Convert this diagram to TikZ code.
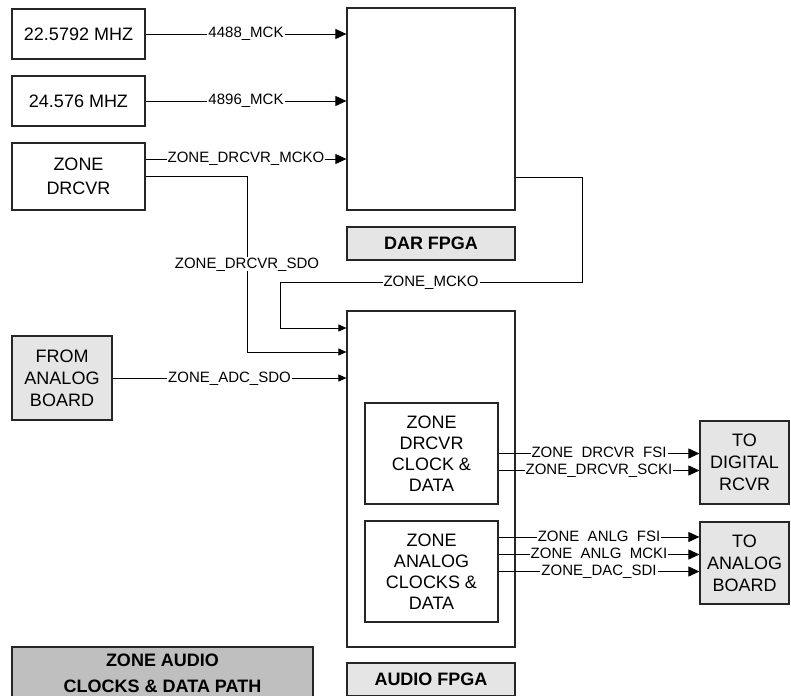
\documentclass[tikz,border=0pt]{standalone}
\usepackage{fontspec}
\setmainfont{Liberation Sans}
\usetikzlibrary{arrows.meta}

\begin{document}
\begin{tikzpicture}[x=1pt, y=-1pt,
    blk/.style={draw=black!85, line width=1.2pt, align=center, inner sep=0pt,
        font=\fontsize{18}{22}\selectfont},
    tag/.style={blk, fill=gray!20, font=\fontsize{18}{22}\selectfont\bfseries},
    lbl/.style={fill=white, inner xsep=1pt, inner ysep=0pt, text height=11pt, text depth=3pt,
        font=\fontsize{15}{15}\selectfont},
    sig/.style={line width=0.9pt, -{Triangle[length=11pt, width=10pt]}},
    sigin/.style={line width=0.9pt, -{Triangle[length=8pt, width=7pt]}}]
    \clip (0,0) rectangle (791,695);

    % Clock sources
    \node[blk, minimum width=133pt, minimum height=50pt] (osc1) at (78.5,34) {22.5792 MHZ};
    \node[blk, minimum width=133pt, minimum height=50pt] (osc2) at (78.5,101) {24.576 MHZ};
    \node[blk, minimum width=133pt, minimum height=67pt, font=\fontsize{18}{24}\selectfont] (drcvr) at (78.5,176.5) {ZONE\\DRCVR};

    % DAR FPGA
    \node[blk, minimum width=168pt, minimum height=202pt] (dar) at (431,109) {};
    \node[tag, minimum width=168pt, minimum height=33pt] (darname) at (431,243.5) {DAR FPGA};

    % Analog board input
    \node[blk, fill=gray!20, minimum width=100pt, minimum height=84pt] (anain) at (62,378) {FROM\\ANALOG\\BOARD};

    % Audio FPGA
    \node[blk, minimum width=168pt, minimum height=336pt] (audio) at (431,479) {};
    \node[tag, minimum width=168pt, minimum height=33pt] (audioname) at (431,679.5) {AUDIO FPGA};
    \node[blk, minimum width=133pt, minimum height=101pt, font=\fontsize{18}{21}\selectfont] (drcvrcd) at (431.5,453.5) {ZONE\\DRCVR\\CLOCK \&\\DATA};
    \node[blk, minimum width=133pt, minimum height=101pt, font=\fontsize{18}{21}\selectfont] (anacd) at (431.5,571.5) {ZONE\\ANALOG\\CLOCKS \&\\DATA};

    % Outputs
    \node[blk, fill=gray!20, minimum width=89pt, minimum height=83pt] (todig) at (744.5,462.5) {TO\\DIGITAL\\RCVR};
    \node[blk, fill=gray!20, minimum width=89pt, minimum height=82pt] (toana) at (744.5,563) {TO\\ANALOG\\BOARD};

    % Title
    \node[tag, fill=gray!50, minimum width=301pt, minimum height=52pt, font=\fontsize{18}{26}\selectfont\bfseries] (title) at (162.5,673) {ZONE AUDIO\\CLOCKS \& DATA PATH};

    % Clocks into DAR FPGA
    \coordinate (mckoin) at ([yshift=17.5pt]drcvr.east);
    \draw[sig] (osc1) -- node[lbl] {4488\_MCK} (osc1 -| dar.west);
    \draw[sig] (osc2) -- node[lbl] {4896\_MCK} (osc2 -| dar.west);
    \draw[sig] (mckoin) -- node[lbl] {ZONE\_DRCVR\_MCKO} (mckoin -| dar.west);

    % Inputs of audio FPGA
    \coordinate (sdobend) at (247,352);
    \draw[sigin] (drcvr.east) -| node[lbl, pos=0.75] {ZONE\_DRCVR\_SDO} (sdobend) -- (sdobend -| audio.west);
    \coordinate (mckoout) at ([yshift=-68pt]dar.east);
    \coordinate (mckoright) at (582,282);
    \coordinate (mckoleft) at (280,328);
    \draw[sigin] (mckoout) -| (mckoright) -- node[lbl] {ZONE\_MCKO} (mckoright -| mckoleft) -- (mckoleft) -- (mckoleft -| audio.west);
    \draw[sigin] (anain) -- node[lbl] {ZONE\_ADC\_SDO} (anain -| audio.west);

    % Outputs of audio FPGA
    \coordinate (sckiout) at ([yshift=-17pt]drcvrcd.east);
    \coordinate (afsiout) at ([yshift=34.5pt]anacd.east);
    \coordinate (amckiout) at ([yshift=17pt]anacd.east);
    \draw[sig] (drcvrcd) -- node[lbl] {ZONE\ \ DRCVR\ \ FSI} (drcvrcd -| todig.west);
    \draw[sig] (sckiout) -- node[lbl] {ZONE\_DRCVR\_SCKI} (sckiout -| todig.west);
    \draw[sig] (afsiout) -- node[lbl] {ZONE\ \ ANLG\ \ FSI} (afsiout -| toana.west);
    \draw[sig] (amckiout) -- node[lbl] {ZONE\ \ ANLG\ \ MCKI} (amckiout -| toana.west);
    \draw[sig] (anacd) -- node[lbl] {ZONE\_DAC\_SDI} (anacd -| toana.west);
\end{tikzpicture}
\end{document}
